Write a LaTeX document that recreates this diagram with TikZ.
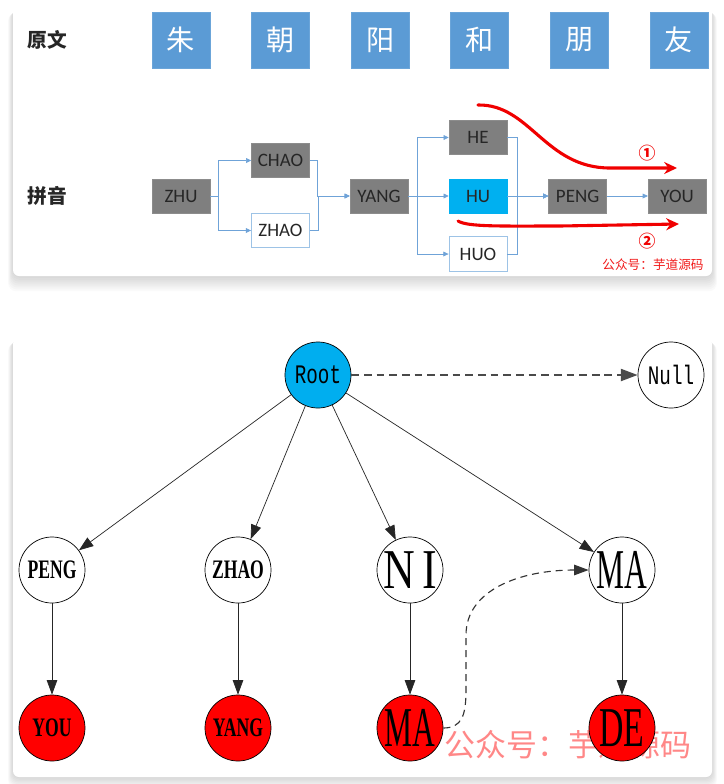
\documentclass[tikz,border=0pt]{standalone}
\usepackage{fontspec}
\usepackage{graphicx}
\usetikzlibrary{arrows.meta, positioning, calc}
\newfontfamily\cjk{Noto Sans CJK SC}
\newfontfamily\pyfont{Carlito}
\newfontfamily\gvfont{Liberation Serif}
\newfontfamily\gvmono{Liberation Mono}
\definecolor{hzblue}{HTML}{5B9BD5}
\definecolor{pygray}{HTML}{7F7F7F}
\definecolor{pycyan}{HTML}{00B0F0}
\definecolor{linkblue}{HTML}{6FA3D8}
\definecolor{optline}{HTML}{9DC3E6}
\definecolor{rootblue}{HTML}{00AEEF}
\definecolor{leafred}{HTML}{FF0000}
\definecolor{pathred}{HTML}{F00000}
\definecolor{edgegray}{HTML}{4A4A4A}
\newcommand{\narrow}[2][0.66]{\scalebox{#1}[1]{#2}}

\begin{document}
\begin{tikzpicture}[
    x=0.025cm, y=-0.025cm,
    node distance=1.025cm,
    panel/.style={fill=white, rounded corners=0.15cm},
    hanzi/.style={fill=hzblue, draw=hzblue!90, minimum width=1.45cm, minimum height=1.4cm, inner sep=0pt, text=white, font=\cjk\fontsize{20}{20}\selectfont},
    rowlabel/.style={font=\cjk\bfseries\fontsize{14}{14}\selectfont, text=black!85},
    pybox/.style={fill=pygray, draw=pygray!90, minimum width=1.45cm, minimum height=0.86cm, inner sep=0pt, text=black!85, font=\pyfont\fontsize{13.5}{13.5}\selectfont},
    pyhit/.style={pybox, fill=pycyan, draw=pycyan},
    pyopt/.style={pybox, fill=white, draw=optline, line width=0.6pt},
    link/.style={draw=linkblue, line width=0.5pt, -{Triangle[length=1.3mm, width=1.2mm]}},
    redpath/.style={draw=pathred, line width=2.2pt, line cap=round, -{Stealth[length=3.2mm, width=3mm]}},
    rednum/.style={text=pathred, font=\cjk\bfseries\fontsize{12}{12}\selectfont},
    trie/.style={circle, draw, line width=0.5pt, minimum size=1.65cm, inner sep=0pt, fill=white},
    trieroot/.style={trie, fill=rootblue, font=\gvmono\fontsize{19}{19}\selectfont},
    nullnode/.style={trie, font=\gvmono\fontsize{19}{19}\selectfont},
    smallword/.style={font=\gvfont\bfseries\fontsize{19}{19}\selectfont},
    bigword/.style={font=\gvfont\fontsize{40}{40}\selectfont},
    leaf/.style={trie, fill=leafred},
    edge/.style={draw=black!85, line width=0.5pt, -{Triangle[length=3.6mm, width=2.6mm]}},
    nulledge/.style={draw=edgegray, line width=1.5pt, dash pattern=on 5.5pt off 3.5pt, -{Triangle[length=4.2mm, width=3mm]}},
    jumpedge/.style={draw=black!80, line width=0.8pt, dash pattern=on 5pt off 3.5pt, -{Triangle[length=3.6mm, width=2.6mm]}}
]
    \useasboundingbox (0,0) rectangle (724,784);
    \fill[white] (0,0) rectangle (724,784);

    % panel shadows
    \foreach \s in {1,...,8} {
        \fill[black!60, opacity=0.03, rounded corners=0.2cm] (13-\s*0.6, 8+\s*0.6) rectangle (712+\s*0.6, 276+\s*1.9);
        \fill[black!60, opacity=0.03, rounded corners=0.2cm] (13-\s*0.6, 338+\s*0.6) rectangle (712+\s*0.6, 777+\s*1.4);
    }
    \fill[panel] (13,6) rectangle (712,276);
    \fill[panel] (13,338) rectangle (712,777);

    % 原文 row
    \node[rowlabel] (lorig) at (47,40) {原文};
    \node[hanzi] (hzhu) at (181,40) {朱};
    \node[hanzi, right=of hzhu] (hchao) {朝};
    \node[hanzi, right=of hchao] (hyang) {阳};
    \node[hanzi, right=of hyang] (hhe) {和};
    \node[hanzi, right=of hhe] (hpeng) {朋};
    \node[hanzi, right=of hpeng] (hyou) {友};

    % 拼音 row
    \node[rowlabel] (lpy) at (47,196) {拼音};
    \node[pybox] (pzhu) at (181,196) {ZHU};
    \node[pybox] (pchao) at (280.5,160.5) {CHAO};
    \node[pyopt] (pzhao) at (280.5,230.5) {ZHAO};
    \node[pybox] (pyang) at (379,196) {YANG};
    \node[pybox] (phe) at (478,137.5) {HE};
    \node[pyhit] (phu) at (478,196) {HU};
    \node[pyopt] (phuo) at (478,254) {HUO};
    \node[pybox, right=of phu] (ppeng) {PENG};
    \node[pybox, right=of ppeng] (pyou) {YOU};

    % links
    \draw[link] (pzhu.east) -- ++(8,0) |- (pchao.west);
    \draw[link] (pzhu.east) -- ++(8,0) |- (pzhao.west);
    \draw[link] (pchao.east) -- ++(8,0) |- (pyang.west);
    \draw[link] (pzhao.east) -- ++(8,0) |- (pyang.west);
    \draw[link] (pyang.east) -- ++(9,0) |- (phe.west);
    \draw[link] (pyang.east) -- ++(9,0) |- (phuo.west);
    \draw[link] (pyang) -- (phu);
    \draw[link] (phe.east) -- ++(10,0) |- (ppeng.west);
    \draw[link] (phuo.east) -- ++(10,0) |- (ppeng.west);
    \draw[link] (phu) -- (ppeng);
    \draw[link] (ppeng) -- (pyou);

    % red paths
    \coordinate (r1s) at (478,105);
    \coordinate (r1e) at (677,168);
    \coordinate (r2s) at (458,221);
    \coordinate (r2e) at (679,224);
    \draw[redpath] (r1s) .. controls (530,104) and (545,168) .. (610,168) -- (r1e);
    \draw[redpath] (r2s) .. controls (468,227) and (500,226) .. (560,226) -- (r2e);
    \node[rednum] (n1) at (647,153) {①};
    \node[rednum] (n2) at (647,241) {②};
    \node[text=pathred!90, font=\cjk\fontsize{9}{9}\selectfont] (wm1) at (653,265) {公众号：芋道源码};

    % trie
    \node[text=red!55, opacity=0.85, font=\cjk\fontsize{22}{22}\selectfont] (wm2) at (568,745) {公众号：芋道源码};
    \node[trieroot] (troot) at (318,375) {\scalebox{0.72}[1]{Root}};
    \node[nullnode] (tnull) at (671,375) {\scalebox{0.72}[1]{Null}};
    \node[trie, smallword] (tpeng) at (52,570) {\narrow{PENG}};
    \node[trie, smallword] (tzhao) at (238,570) {\narrow{ZHAO}};
    \node[trie, bigword] (tni) at (410,570) {\narrow[0.78]{N\,I}};
    \node[trie, bigword] (tma) at (622,570) {\narrow[0.56]{MA}};
    \node[leaf, smallword] (tyou) at (52,728) {\narrow{YOU}};
    \node[leaf, smallword] (tyang) at (238,728) {\narrow{YANG}};
    \node[leaf, bigword] (tma2) at (410,728) {\narrow[0.56]{MA}};
    \node[leaf, bigword] (tde) at (622,728) {\narrow[0.6]{DE}};

    \draw[nulledge] (troot) -- (tnull);
    \draw[edge] (troot) -- (tpeng);
    \draw[edge] (troot) -- (tzhao);
    \draw[edge] (troot) -- (tni);
    \draw[edge] (troot) -- (tma);
    \draw[edge] (tpeng) -- (tyou);
    \draw[edge] (tzhao) -- (tyang);
    \draw[edge] (tni) -- (tma2);
    \draw[edge] (tma) -- (tde);
    \draw[jumpedge] (tma2.east) .. controls (462,728) and (466,715) .. (466,690) -- (466,635) .. controls (466,590) and (520,570) .. (tma.west);
\end{tikzpicture}
\end{document}
